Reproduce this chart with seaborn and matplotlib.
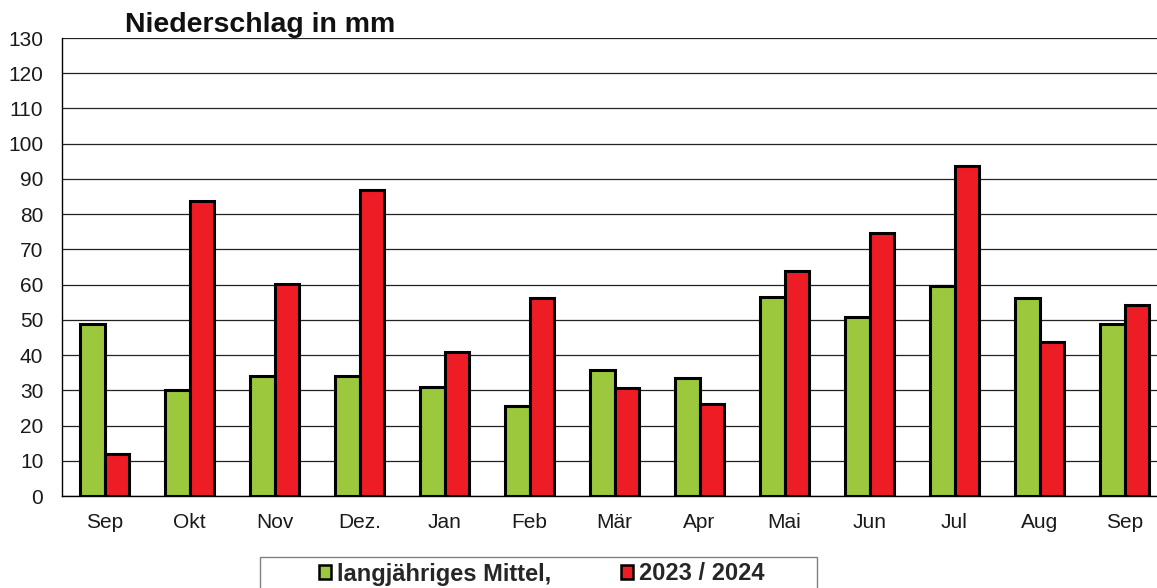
import matplotlib
matplotlib.use("Agg")
import matplotlib.pyplot as plt
import seaborn as sns
import pandas as pd
import numpy as np
from matplotlib.patches import Rectangle, Patch

months = ["Sep", "Okt", "Nov", "Dez.", "Jan", "Feb", "Mär", "Apr", "Mai", "Jun", "Jul", "Aug", "Sep"]
mittel = [48.8, 30.1, 34.1, 34.0, 31.0, 25.5, 35.8, 33.5, 56.5, 50.8, 59.6, 56.2, 48.8]
jahr = [11.9, 83.7, 60.2, 86.9, 40.9, 56.2, 30.7, 26.1, 63.9, 74.7, 93.7, 43.7, 54.2]
series = ["langjähriges Mittel,", "2023 / 2024"]
colors = ["#9BC83C", "#EE1C24"]
yticks = list(range(0, 131, 10))

keys = [f"{i:02d}_{m}" for i, m in enumerate(months)]
df = pd.DataFrame({
    "key": keys * 2,
    "value": mittel + jahr,
    "series": [series[0]] * len(keys) + [series[1]] * len(keys),
})

sns.set_style("white")
plt.rcParams["font.family"] = ["Liberation Sans", "DejaVu Sans"]

W, H = 1157, 588
fig = plt.figure(figsize=(W / 100, H / 100), dpi=100)
ax = fig.add_axes([62 / W, 1 - 496 / H, 1105 / W, (496 - 38) / H])

sns.barplot(data=df, x="key", y="value", hue="series", order=keys,
            hue_order=series, palette=colors, width=0.57, ax=ax,
            edgecolor="black", linewidth=2.2, legend=False, saturation=1)

ax.set_ylim(0, 130)
ax.set_xlim(-0.5, len(keys) - 0.5)
ax.set_yticks(yticks)
ax.set_yticklabels([str(v) for v in yticks], fontsize=15)
ax.set_xticks(range(len(keys)))
ax.set_xticklabels(months, fontsize=15)
ax.set_xticks(np.arange(-0.5, len(keys), 1.0), minor=True)
ax.tick_params(axis="x", which="major", length=0, pad=12, colors="#1a1a1a")
ax.tick_params(axis="x", which="minor", length=4.5, width=0.8, color="black", direction="out")
ax.tick_params(axis="y", length=4.5, width=0.8, direction="out", pad=9, colors="#1a1a1a")
ax.tick_params(axis="y", color="black")
ax.set_xlabel("")
ax.set_ylabel("")
ax.grid(axis="y", color="#222222", linewidth=0.9)
ax.set_axisbelow(True)
for s in ["top", "right"]:
    ax.spines[s].set_visible(False)
for s in ["left", "bottom"]:
    ax.spines[s].set_color("black")
    ax.spines[s].set_linewidth(1.0)

fig.text(125 / W, 1 - 32 / H, "Niederschlag in mm", fontsize=20.5, fontweight="bold",
         va="baseline", ha="left", color="#111111")

fig.patches.append(Rectangle((260 / W, -0.1), 557 / W, 1 - 557 / H + 0.1,
                             transform=fig.transFigure, fill=False,
                             edgecolor="#808080", linewidth=1.0))

handles = [Patch(facecolor=c, edgecolor="black", linewidth=1.8) for c in colors]
fig.legend(handles, series, loc="center left", bbox_to_anchor=(319 / W, 1 - 574 / H),
           ncol=2, frameon=False, borderpad=0, borderaxespad=0,
           handlelength=0.5, handleheight=0.5, handletextpad=0.27, columnspacing=2.95,
           prop={"family": ["Liberation Sans"], "weight": "bold", "size": 17})

fig.savefig("out.png", dpi=100)
